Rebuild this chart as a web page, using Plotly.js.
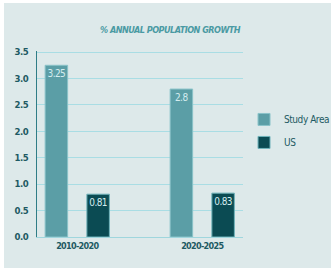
<!DOCTYPE html>
<html>
<head>
<meta charset="utf-8">
<script src="https://cdn.plot.ly/plotly-3.0.1.min.js"></script>
<style>
html,body{margin:0;padding:0;background:#ffffff;width:331px;height:271px;overflow:hidden;}
#chart{position:absolute;left:4px;top:3px;width:327px;height:265px;}
#chart text{font-stretch:condensed !important;}
#chart .gtitle{letter-spacing:-0.5px;}
#chart .xtick text{letter-spacing:-0.7px;}
#chart .ytick text{letter-spacing:-0.5px;}
#chart .legendtext{letter-spacing:-0.45px;}
#chart .bartext{letter-spacing:-0.6px;}
</style>
</head>
<body>
<div id="chart"></div>
<script>
var categories = ["2010-2020", "2020-2025"];
var studyArea = [3.25, 2.8];
var us = [0.81, 0.83];
var studyLabels = ["3.25", "2.8"];
var usLabels = ["0.81", "0.83"];
var yTicks = [0, 0.5, 1.0, 1.5, 2.0, 2.5, 3.0, 3.5];

var FONT = "'DejaVu Sans Condensed', 'DejaVu Sans', sans-serif";

var traces = [
  {
    type: "bar", name: "Study Area", x: categories, y: studyArea,
    text: studyLabels, textposition: "inside", insidetextanchor: "end", textangle: 0,
    constraintext: "none",
    textfont: {family: FONT, size: 10, color: "#d4ecef"},
    width: 0.18, offset: -0.257,
    marker: {color: "#5b9ea6", line: {color: "#8ac3c9", width: 1}},
    legendgroup: "a", hoverinfo: "none"
  },
  {
    type: "bar", name: "US", x: categories, y: us,
    text: usLabels, textposition: "inside", insidetextanchor: "end", textangle: 0,
    constraintext: "none",
    textfont: {family: FONT, size: 10, color: "#d4ecef"},
    width: 0.18, offset: 0.077,
    marker: {color: "#0b4b53", line: {color: "#6fb3ba", width: 1}},
    legendgroup: "b", hoverinfo: "none"
  }
];

var layout = {
  width: 327, height: 265,
  margin: {l: 33, r: 88, t: 48, b: 31, pad: 0, autoexpand: false},
  paper_bgcolor: "#dde9ea",
  plot_bgcolor: "#dde9ea",
  font: {family: FONT, color: "#1d5a63", size: 10},
  title: {
    text: "<b><i>% ANNUAL POPULATION GROWTH</i></b>",
    font: {family: FONT, size: 9, color: "#4a9aa3"},
    x: 0.508, xref: "container", xanchor: "center",
    y: 0.898, yref: "container", yanchor: "middle"
  },
  xaxis: {
    type: "category", range: [-0.322, 1.326],
    showgrid: false, zeroline: false,
    showline: true, linecolor: "#9fd6dd", linewidth: 1,
    ticks: "", tickfont: {family: FONT, size: 9, color: "#1d5a63", weight: "bold"},
    fixedrange: true
  },
  yaxis: {
    range: [0, 3.52], tickvals: yTicks, tickformat: ".1f",
    showgrid: true, gridcolor: "#a9dde4", gridwidth: 1,
    zeroline: false, showline: true, linecolor: "#2f7d87", linewidth: 1,
    ticks: "", ticklabelstandoff: 6,
    tickfont: {family: FONT, size: 9.5, color: "#1d5a63", weight: "bold"},
    fixedrange: true
  },
  showlegend: true,
  legend: {
    x: 1.005, xanchor: "left", y: 0.71, yanchor: "top",
    bgcolor: "rgba(0,0,0,0)", traceorder: "grouped", tracegroupgap: 4,
    font: {family: FONT, size: 10, color: "#1d5a63"}
  },
  bargap: 0, barmode: "group"
};

Plotly.newPlot("chart", traces, layout, {displayModeBar: false, staticPlot: true});
</script>
</body>
</html>
